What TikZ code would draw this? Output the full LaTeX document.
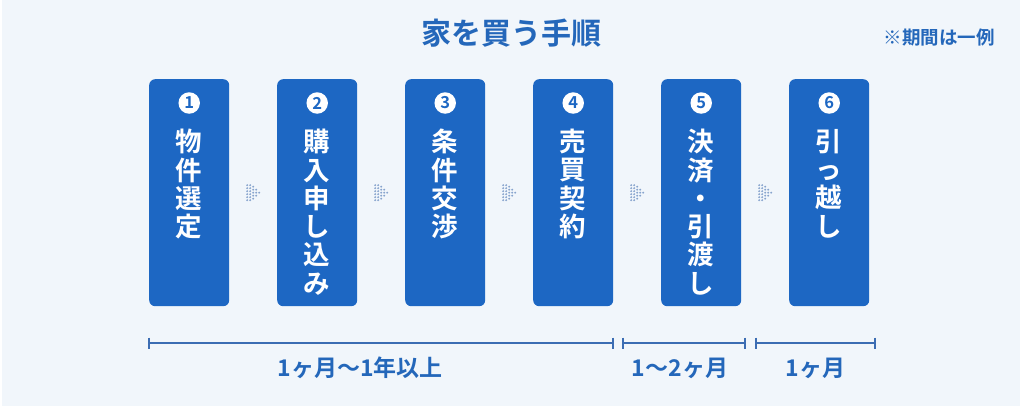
\documentclass[tikz,border=0pt]{standalone}
\usepackage{fontspec}
\newfontfamily\jp{Noto Sans CJK JP}[BoldFont={Noto Sans CJK JP Bold}]
\usetikzlibrary{calc}
\definecolor{bg}{HTML}{F1F6FB}
\definecolor{boxblue}{HTML}{1D67C3}
\definecolor{titleblue}{HTML}{2467BA}
\definecolor{dotc}{HTML}{87A4CD}
\definecolor{linec}{HTML}{3C6DB3}
\tikzset{
  x=1pt, y=-1pt,
  stepbox/.style={fill=boxblue, rounded corners=6pt, minimum width=80pt, minimum height=227pt, inner sep=0pt, anchor=north west},
  numc/.style={circle, fill=white, minimum size=21.5pt, inner sep=0pt, text=boxblue, font=\jp\bfseries\fontsize{16.5}{16.5}\selectfont},
  vtext/.style={text=white, anchor=north, align=center, inner sep=0pt, font=\jp\bfseries\fontsize{26.5}{28.3}\selectfont},
  spanline/.style={draw=linec, line width=1.4pt},
  spanlabel/.style={text=titleblue, font=\jp\bfseries\fontsize{23}{23}\selectfont, inner sep=0pt},
}
\begin{document}
\begin{tikzpicture}
\useasboundingbox (0,0) rectangle (1024,410);
\fill[white] (0,0) rectangle (1024,410);
\fill[bg] (2,0) rectangle (1020,406);
\node[text=titleblue, font=\jp\bfseries\fontsize{30}{30}\selectfont, inner sep=0pt] (title) at (511,33) {家を買う手順};
\node[text=titleblue, font=\jp\bfseries\fontsize{18.5}{18.5}\selectfont, inner sep=0pt, anchor=east] (note) at (995,38) {※期間は一例};
% boxes
\foreach \i/\t in {1/{物\\件\\選\\定}, 2/{購\\入\\申\\し\\込\\み}, 3/{条\\件\\交\\渉}, 4/{売\\買\\契\\約}, 5/{決\\済\\・\\引\\渡\\し}, 6/{引\\っ\\越\\し}} {
  \node[stepbox] (b\i) at ({149+128*(\i-1)},79) {};
  \node[numc] (n\i) at ($(b\i.north)+(0,24)$) {\i};
  \node[vtext] (t\i) at ($(b\i.north)+(0,50)$) {\t};
}
% dotted arrows
\foreach \a/\b in {1/2,2/3,3/4,4/5,5/6} {
  \coordinate (m\a) at ($(b\a.east)!0.5!(b\b.west)+(0,0)$);
  \begin{scope}[shift={(m\a)}]
    \foreach \cx/\ny in {-6/6,-3/6,0/5,3/3,6/1} {
      \pgfmathsetmacro{\ys}{-1.5*(\ny-1)}
      \foreach \k in {1,...,\ny} {
        \fill[dotc] (\cx,{\ys+3*(\k-1)}) circle (1.05pt);
      }
    }
  \end{scope}
}
% spans
\coordinate (s1a) at (149,343); \coordinate (s1b) at (613,343);
\coordinate (s2a) at (623,343); \coordinate (s2b) at (745,343);
\coordinate (s3a) at (756,343); \coordinate (s3b) at (875,343);
\foreach \s in {1,2,3} {
  \draw[spanline] (s\s a) -- (s\s b);
  \draw[spanline] ($(s\s a)+(0,-5.5)$) -- ($(s\s a)+(0,5.5)$);
  \draw[spanline] ($(s\s b)+(0,-5.5)$) -- ($(s\s b)+(0,5.5)$);
}
\node[spanlabel] (l1) at (360,368) {1ヶ月〜1年以上};
\node[spanlabel] (l2) at ($(s2a)!0.5!(s2b)+(-4,25)$) {1〜2ヶ月};
\node[spanlabel] (l3) at ($(s3a)!0.5!(s3b)+(0,25)$) {1ヶ月};
\end{tikzpicture}
\end{document}
